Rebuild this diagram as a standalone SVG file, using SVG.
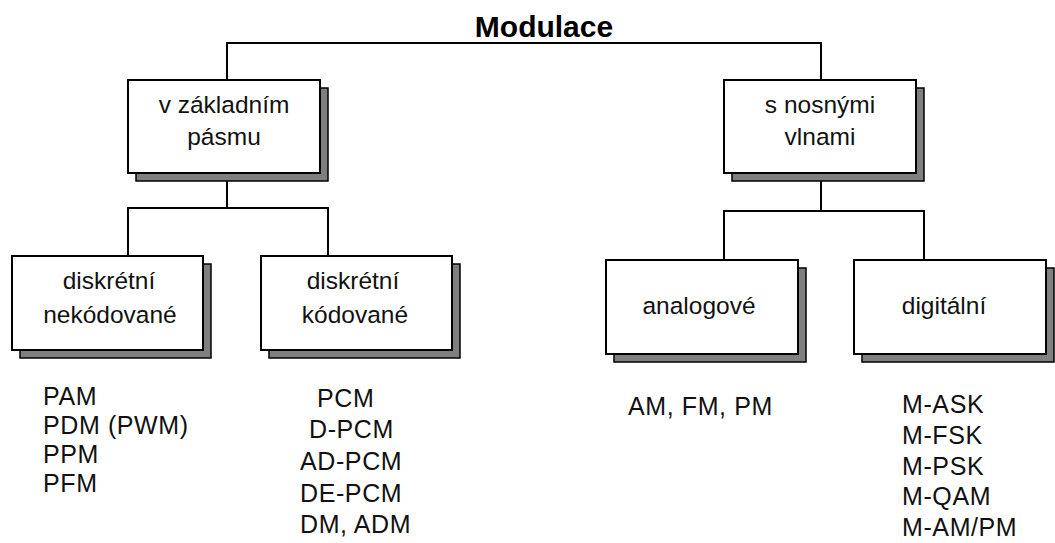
<svg xmlns="http://www.w3.org/2000/svg" width="1055" height="543" viewBox="0 0 1055 543">
  <style>
    .bg { fill: #ffffff; }
    .wire { fill: none; stroke: #000000; stroke-width: 2; }
    .shadow { fill: #7f7f7f; stroke: #000000; stroke-width: 1.5; }
    .box { fill: #ffffff; stroke: #000000; stroke-width: 2; }
    .label { font-family: "Liberation Sans", Arial, sans-serif; font-size: 24.5px; fill: #111111; text-anchor: middle; }
    .item { font-family: "Liberation Sans", Arial, sans-serif; font-size: 25px; letter-spacing: 0.6px; fill: #111111; }
    .title { font-family: "Liberation Sans", Arial, sans-serif; font-size: 30px; font-weight: bold; fill: #000000; text-anchor: middle; }
  </style>

  <rect class="bg" x="0" y="0" width="1055" height="543"/>

  <!-- Root title -->
  <g id="root">
    <text class="title" x="544" y="37">Modulace</text>
  </g>

  <!-- Tree connectors -->
  <g id="connectors">
    <path class="wire" d="M227 80 V43 H821 V80"/>
    <path class="wire" d="M227 173 V208 M128 256 V208 H328 V256"/>
    <path class="wire" d="M821 173 V211 M724 260 V211 H924 V260"/>
  </g>

  <!-- Level 1 -->
  <g id="baseband">
    <rect class="shadow" x="136" y="88" width="192" height="93"/>
    <rect class="box" x="128" y="80" width="192" height="93"/>
    <text class="label" x="224" y="113">v základním</text>
    <text class="label" x="224" y="145">pásmu</text>
  </g>

  <g id="carrier">
    <rect class="shadow" x="732" y="88" width="192" height="93"/>
    <rect class="box" x="724" y="80" width="192" height="93"/>
    <text class="label" x="820" y="113">s nosnými</text>
    <text class="label" x="820" y="145">vlnami</text>
  </g>

  <!-- Level 2, baseband branch -->
  <g id="discrete-uncoded">
    <rect class="shadow" x="20" y="264" width="191" height="94"/>
    <rect class="box" x="12" y="256" width="191" height="94"/>
    <text class="label" x="109" y="289">diskrétní</text>
    <text class="label" x="110" y="323">nekódované</text>
    <text class="item" x="43" y="405">PAM</text>
    <text class="item" x="43" y="434">PDM (PWM)</text>
    <text class="item" x="43" y="463">PPM</text>
    <text class="item" x="43" y="492">PFM</text>
  </g>

  <g id="discrete-coded">
    <rect class="shadow" x="269" y="264" width="191" height="94"/>
    <rect class="box" x="261" y="256" width="191" height="94"/>
    <text class="label" x="353" y="289">diskrétní</text>
    <text class="label" x="355" y="323">kódované</text>
    <text class="item" x="317" y="407">PCM</text>
    <text class="item" x="309" y="438">D-PCM</text>
    <text class="item" x="300" y="470">AD-PCM</text>
    <text class="item" x="300" y="502">DE-PCM</text>
    <text class="item" x="300" y="533">DM, ADM</text>
  </g>

  <!-- Level 2, carrier branch -->
  <g id="analog">
    <rect class="shadow" x="614" y="268" width="192" height="94"/>
    <rect class="box" x="606" y="260" width="192" height="94"/>
    <text class="label" x="699" y="314">analogové</text>
    <text class="item" x="628" y="415">AM, FM, PM</text>
  </g>

  <g id="digital">
    <rect class="shadow" x="862" y="268" width="192" height="94"/>
    <rect class="box" x="854" y="260" width="192" height="94"/>
    <text class="label" x="944" y="314">digitální</text>
    <text class="item" x="902" y="413">M-ASK</text>
    <text class="item" x="902" y="444">M-FSK</text>
    <text class="item" x="902" y="475">M-PSK</text>
    <text class="item" x="902" y="505">M-QAM</text>
    <text class="item" x="902" y="536">M-AM/PM</text>
  </g>
</svg>
